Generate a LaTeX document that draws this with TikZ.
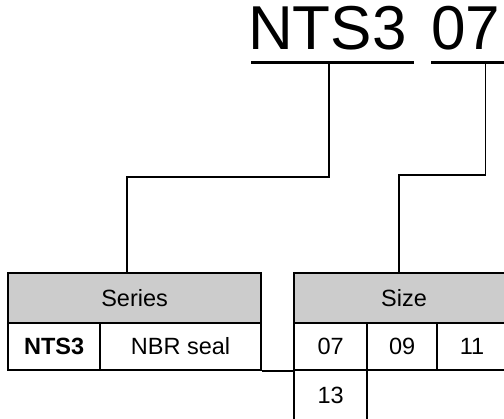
\documentclass[tikz,border=0pt]{standalone}
\usepackage{fontspec}
\setmainfont{Liberation Sans}
\definecolor{hdr}{HTML}{CCCCCC}
\begin{document}
\begin{tikzpicture}[x=1pt,y=-1pt,
  cell/.style={draw, line width=2.2pt, inner sep=0pt, anchor=north west,
    font=\fontsize{23.5}{28}\selectfont},
  headcell/.style={cell, fill=hdr, minimum height=50pt},
  rowcell/.style={cell, minimum height=47pt},
  title/.style={inner sep=0pt, anchor=base west, font=\fontsize{62}{72}\selectfont},
  uline/.style={line width=3.2pt},
  conn/.style={line width=1.8pt}]
\useasboundingbox (0,0) rectangle (504,419);
\clip (0,0) rectangle (504,419);
% title
\node[title] (t1) at (248,50) {NTS3};
\node[title] (t2) at (431,50) {07};
\coordinate (u1a) at (251,62.5);
\coordinate (u1b) at (414,62.5);
\coordinate (u2a) at (431,62.5);
\coordinate (u2b) at (506,62.5);
\draw[uline] (u1a) -- (u1b);
\draw[uline] (u2a) -- (u2b);
% tables
\node[headcell, minimum width=253pt] (series) at (7,272) {Series};
\node[rowcell, minimum width=92pt, font=\fontsize{23.5}{28}\selectfont\bfseries] (nts) at (7,322) {NTS3};
\node[rowcell, minimum width=161pt] (nbr) at (99,322) {NBR seal};
\node[headcell, minimum width=220pt] (size) at (293,272) {Size};
\node[rowcell, minimum width=73pt] (c07) at (293,322) {07};
\node[rowcell, minimum width=70pt] (c09) at (366,322) {09};
\node[rowcell, minimum width=70pt] (c11) at (436,322) {11};
\node[cell, minimum width=73pt, minimum height=50pt] (c13) at (293,369) {13};
\draw[line width=2.2pt] (nbr.south east) -- (c07.south west);
% connectors
\coordinate (s1) at (329,62.5);
\coordinate (k1) at (127,177);
\coordinate (s2) at (485.5,62.5);
\coordinate (k2) at (399,175);
\draw[conn] (s1) |- (k1) -- (k1 |- series.north);
\draw[conn] (s2) |- (k2) -- (k2 |- size.north);
\end{tikzpicture}
\end{document}
